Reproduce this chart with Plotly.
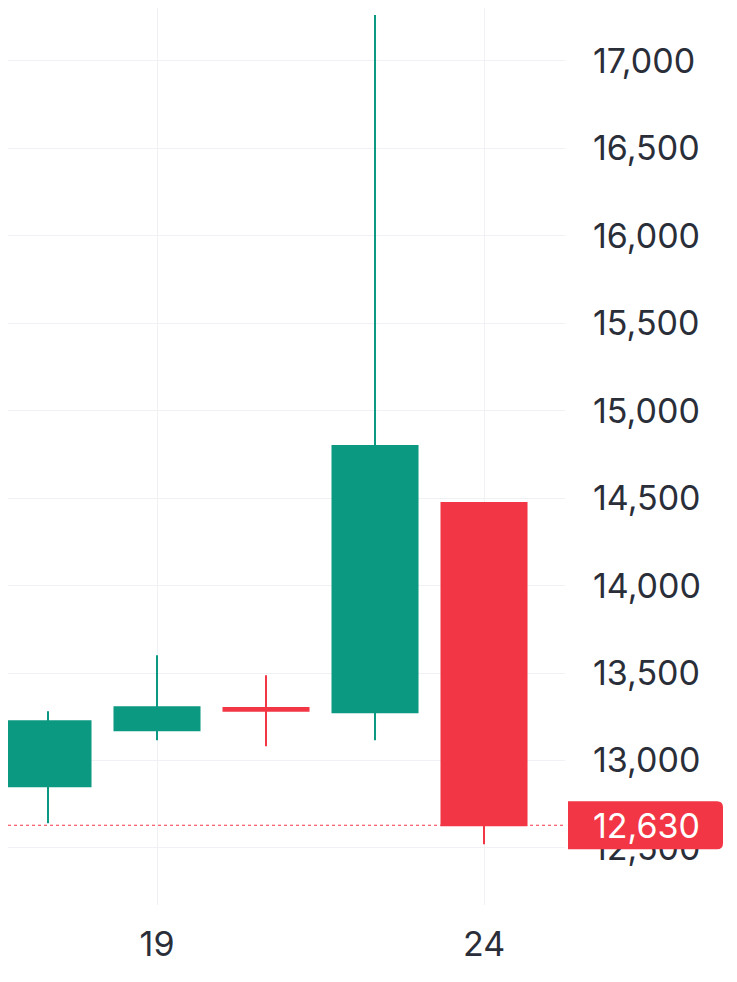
import plotly.graph_objects as go

# ----- Data ----- #
days = ["18", "19", "20", "23", "24"]
opens = [12853, 13173, 13300, 13276, 14472]
highs = [13282, 13602, 13488, 17263, 14472]
lows = [12641, 13116, 13082, 13116, 12521]
closes = [13225, 13305, 13285, 14798, 12630]
tick_days = ["19", "24"]
y_ticks = [12500, 13000, 13500, 14000, 14500, 15000, 15500, 16000, 16500, 17000]
last_price = closes[-1]

GREEN = "#0C9981"
RED = "#F23645"
GRID = "#F0F1F4"
TEXT = "#2A2E39"

# ----- Plotting ----- #
fig = go.Figure()

fig.add_trace(
    go.Candlestick(
        x=days,
        open=opens,
        high=highs,
        low=lows,
        close=closes,
        increasing=dict(line=dict(color=GREEN, width=2), fillcolor=GREEN),
        decreasing=dict(line=dict(color=RED, width=2), fillcolor=RED),
        whiskerwidth=0,
        hoverinfo="skip",
        showlegend=False,
    )
)

# Last price dotted line
fig.add_shape(
    type="line",
    xref="paper",
    yref="y",
    x0=0,
    x1=1,
    y0=last_price,
    y1=last_price,
    line=dict(color=RED, width=1.2, dash="dot"),
    layer="below",
)

# Price label box (rounded right corners)
fig.add_shape(
    type="path",
    xref="paper",
    yref="y",
    xsizemode="pixel",
    ysizemode="pixel",
    xanchor=1,
    yanchor=last_price,
    path="M 3,-24 L 152,-24 Q 158,-24 158,-18 L 158,18 Q 158,24 152,24 L 3,24 Z",
    fillcolor=RED,
    line=dict(width=0),
    layer="above",
)

fig.add_annotation(
    xref="paper",
    yref="y",
    x=1,
    y=last_price,
    xanchor="left",
    yanchor="middle",
    xshift=26,
    text=f"{last_price:,}",
    showarrow=False,
    font=dict(color="white", size=34, family="Inter"),
)

# Formatting
# page body has an 8px margin, so the figure is sized to fit the window from there
fig.update_layout(
    width=729,
    height=974,
    margin=dict(t=0, b=77, l=0, r=172),
    paper_bgcolor="white",
    plot_bgcolor="white",
    boxgap=0.22,
    boxgroupgap=0,
    font=dict(family="Inter", size=34, color=TEXT),
    xaxis=dict(
        type="category",
        range=[-0.367, 4.743],
        rangeslider=dict(visible=False),
        tickvals=tick_days,
        ticktext=tick_days,
        showgrid=True,
        gridcolor=GRID,
        gridwidth=1,
        showline=False,
        zeroline=False,
        ticks="",
        ticklabelstandoff=16,
    ),
    yaxis=dict(
        side="right",
        range=[12174, 17303],
        tickvals=y_ticks,
        tickformat=",d",
        showgrid=True,
        gridcolor=GRID,
        gridwidth=1,
        showline=False,
        zeroline=False,
        ticks="",
        ticklabelstandoff=27,
    ),
)

fig.write_html("out.html")
